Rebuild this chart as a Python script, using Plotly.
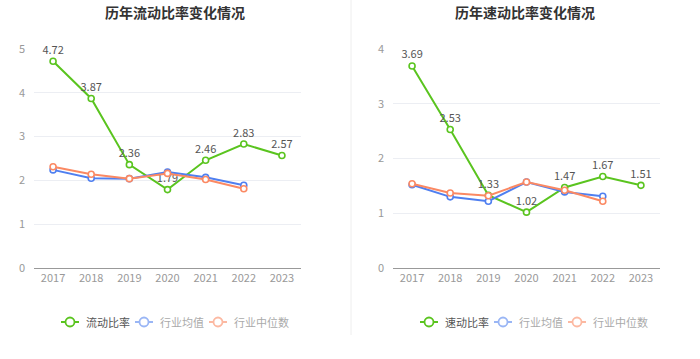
import plotly.graph_objects as go

years = ["2017", "2018", "2019", "2020", "2021", "2022", "2023"]
ind_years = ["2017", "2018", "2019", "2020", "2021", "2022"]

current_ratio = [4.72, 3.87, 2.36, 1.79, 2.46, 2.83, 2.57]
current_mean = [2.24, 2.05, 2.04, 2.19, 2.07, 1.89]
current_median = [2.31, 2.14, 2.04, 2.16, 2.02, 1.81]

quick_ratio = [3.69, 2.53, 1.33, 1.02, 1.47, 1.67, 1.51]
quick_mean = [1.52, 1.30, 1.22, 1.57, 1.39, 1.31]
quick_median = [1.54, 1.37, 1.32, 1.57, 1.42, 1.22]

left_names = ["流动比率", "行业均值", "行业中位数"]
right_names = ["速动比率", "行业均值", "行业中位数"]

GREEN = "#5ac41f"
BLUE = "#4f7ff0"
ORANGE = "#fb8963"
COLORS = [GREEN, BLUE, ORANGE]
LEGEND_COLORS = [GREEN, "#9ab6f5", "#fcb9a2"]
LEGEND_TEXT = ["#555", "#aaa", "#aaa"]
FONT = "Noto Sans CJK SC"

fig = go.Figure()

def add_series(x, y, name, color, xa, ya, labels=False):
    fig.add_trace(go.Scatter(
        x=x, y=y, name=name, xaxis=xa, yaxis=ya,
        mode="lines+markers+text" if labels else "lines+markers",
        line=dict(color=color, width=2),
        marker=dict(symbol="circle", size=6, color="white",
                    line=dict(color=color, width=1.6)),
        text=[f"{v:.2f}" for v in y] if labels else None,
        textposition="top center",
        textfont=dict(size=11, color="#555", family=FONT),
        cliponaxis=False, showlegend=False,
    ))

add_series(years, current_ratio, left_names[0], GREEN, "x", "y", True)
add_series(ind_years, current_mean, left_names[1], BLUE, "x", "y")
add_series(ind_years, current_median, left_names[2], ORANGE, "x", "y")

add_series(years, quick_ratio, right_names[0], GREEN, "x2", "y2", True)
add_series(ind_years, quick_mean, right_names[1], BLUE, "x2", "y2")
add_series(ind_years, quick_median, right_names[2], ORANGE, "x2", "y2")

W, H = 700, 359
ybot = 1 - 268 / H
ytop = 1 - 49 / H

xaxis_common = dict(
    type="category", range=[-0.5, 6.5], showgrid=False, zeroline=False,
    showline=True, linecolor="#999", linewidth=1, automargin=False,
    ticks="", tickfont=dict(size=11, color="#999", family=FONT),
    fixedrange=True,
)
yaxis_common = dict(
    showgrid=True, gridcolor="#eceef3", gridwidth=1, zeroline=False,
    showline=False, ticks="", dtick=1, automargin=False, fixedrange=True,
    tickfont=dict(size=11, color="#999", family=FONT), ticklabelstandoff=8,
)

# manual legends (decoration)
shapes = [
    dict(type="line", xref="paper", yref="paper", x0=351 / W, x1=351 / W,
         y0=1 - 335 / H, y1=1, line=dict(color="#eeeeee", width=1)),
]
annotations = [
    dict(text="<b>历年流动比率变化情况</b>", x=175 / W, y=1 - 12 / H, xref="paper", yref="paper",
         xanchor="center", yanchor="middle", showarrow=False,
         font=dict(size=14, color="#333", family=FONT)),
    dict(text="<b>历年速动比率变化情况</b>", x=525 / W, y=1 - 12 / H, xref="paper", yref="paper",
         xanchor="center", yanchor="middle", showarrow=False,
         font=dict(size=14, color="#333", family=FONT)),
]
ly = 1 - 322 / H
for names, centers in ((left_names, [70, 144, 218]), (right_names, [429, 503, 577])):
    for name, cx, col, tcol in zip(names, centers, LEGEND_COLORS, LEGEND_TEXT):
        shapes.append(dict(type="line", xref="paper", yref="paper",
                           x0=(cx - 9) / W, x1=(cx + 9) / W, y0=ly, y1=ly,
                           line=dict(color=col, width=2)))
        shapes.append(dict(type="circle", xref="paper", yref="paper",
                           xsizemode="pixel", ysizemode="pixel",
                           xanchor=cx / W, yanchor=ly,
                           x0=-4.5, x1=4.5, y0=-4.5, y1=4.5,
                           fillcolor="white", line=dict(color=col, width=1.8)))
        annotations.append(dict(text=name, x=(cx + 14) / W, y=ly, xref="paper", yref="paper",
                                xanchor="left", yanchor="middle", showarrow=False,
                                font=dict(size=11, color=tcol, family=FONT)))

fig.update_layout(
    width=W, height=H, autosize=False,
    margin=dict(l=0, r=0, t=0, b=0, autoexpand=False),
    paper_bgcolor="white", plot_bgcolor="white",
    font=dict(family=FONT, color="#333"),
    xaxis=dict(domain=[34 / W, 301 / W], anchor="y", **xaxis_common),
    yaxis=dict(domain=[ybot, ytop], anchor="x", range=[0, 5], **yaxis_common),
    xaxis2=dict(domain=[393 / W, 660 / W], anchor="y2", **xaxis_common),
    yaxis2=dict(domain=[ybot, ytop], anchor="x2", range=[0, 4], **yaxis_common),
    showlegend=False,
    annotations=annotations,
    shapes=shapes,
)

fig.write_html("out.html", config={"displayModeBar": False},
               post_script="document.body.style.margin='0';document.body.style.overflow='hidden';")
